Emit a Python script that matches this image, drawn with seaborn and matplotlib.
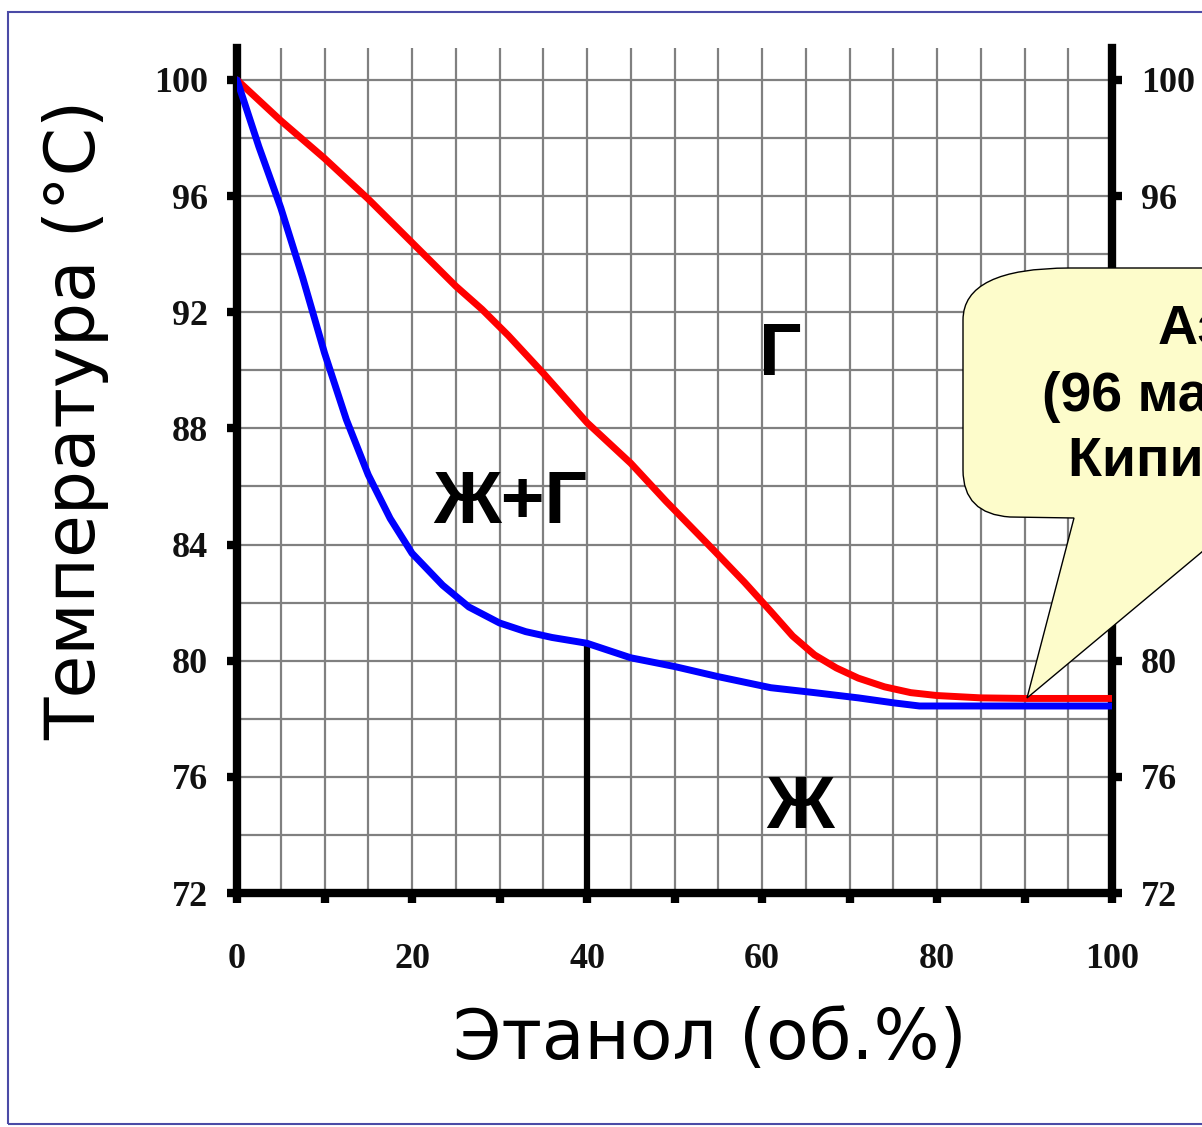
import numpy as np
import pandas as pd
import seaborn as sns
import matplotlib.pyplot as plt
from matplotlib.ticker import MultipleLocator
from matplotlib.path import Path
from matplotlib.patches import PathPatch, Rectangle

# liquid (boiling) curve - blue
ethanol_liq = [0, 2.5, 5, 7.5, 10, 12.5, 15, 17.5, 20, 23.5, 26.5, 30, 33, 36,
               40, 45, 50, 55, 61, 66, 71, 75, 78, 85, 90, 100]
temp_liq = [100, 97.7, 95.6, 93.2, 90.6, 88.3, 86.4, 84.9, 83.7, 82.6, 81.85, 81.3, 81.0, 80.8,
            80.6, 80.1, 79.8, 79.45, 79.07, 78.9, 78.72, 78.55, 78.44, 78.44, 78.44, 78.44]

# vapour (condensation) curve - red
ethanol_vap = [0, 5, 10, 15, 20, 25, 28, 31, 35, 40, 45, 49, 54.5, 58, 61, 63.5,
               66, 68.5, 71, 74, 77, 80, 85, 90, 100]
temp_vap = [100, 98.6, 97.3, 95.9, 94.4, 92.9, 92.1, 91.2, 89.9, 88.2, 86.8, 85.5, 83.8, 82.7, 81.7, 80.85,
            80.2, 79.75, 79.4, 79.1, 78.9, 78.8, 78.72, 78.7, 78.7]

x_ticks = list(range(0, 101, 10))
x_labels = ['0', '', '20', '', '40', '', '60', '', '80', '', '100']
y_ticks = [72, 76, 80, 84, 88, 92, 96, 100]
hidden_right = [84, 88, 92]   # right-hand labels sitting under the callout

marked_x = 40
region_labels = ['Г', 'Ж+Г', 'Ж']
region_x = [62.1, 31.2, 64.3]
region_y = [90.5, 85.4, 74.9]

callout_lines = ['Азеотроп', '(96 масс.% этанол)', 'Кипит при 78,2°C']

liq = pd.DataFrame({'ethanol': ethanol_liq, 'temp': temp_liq})
vap = pd.DataFrame({'ethanol': ethanol_vap, 'temp': temp_vap})

sns.set_theme(style='white')
plt.rcParams['font.family'] = ['DejaVu Sans']

W, H = 1202, 1127
fig = plt.figure(figsize=(W / 100, H / 100), dpi=100)
fig.patch.set_facecolor('white')


def fx(px):
    return px / W


def fy(py):
    return 1 - py / H


ax = fig.add_axes([fx(237), fy(893), fx(1112) - fx(237), fy(48) - fy(893)])
ax.set_facecolor('white')

sns.lineplot(data=vap, x='ethanol', y='temp', color='#ff0000', lw=5, ax=ax, zorder=4)
sns.lineplot(data=liq, x='ethanol', y='temp', color='#0000ff', lw=5, ax=ax, zorder=5)

# composition marker line
ax.vlines(marked_x, 72, np.interp(marked_x, ethanol_liq, temp_liq), color='black', lw=4.5, zorder=3)

ax.set_xlim(0, 100)
ax.set_ylim(72, 101.1)
ax.set_xticks(x_ticks)
ax.set_xticklabels(x_labels)
ax.set_yticks(y_ticks)
ax.set_yticklabels([str(t) for t in y_ticks])
ax.xaxis.set_minor_locator(MultipleLocator(5))
ax.yaxis.set_minor_locator(MultipleLocator(2))
ax.grid(True, which='both', color='#808080', lw=1.6)
ax.set_axisbelow(True)

for side in ['left', 'right', 'bottom']:
    ax.spines[side].set_visible(True)
    ax.spines[side].set_color('black')
    ax.spines[side].set_linewidth(6)
ax.spines['top'].set_visible(False)

ax.tick_params(which='minor', length=0)
ax.tick_params(axis='x', which='major', direction='out', length=7, width=6, color='black', pad=29,
               bottom=True, top=False)
ax.tick_params(axis='y', which='major', direction='out', length=7, width=6, color='black', pad=14,
               left=True, right=True, labelleft=True, labelright=True)

ticklabs = ax.get_xticklabels() + ax.get_yticklabels() + ax.yaxis.get_ticklabels(which='major')
for tick in ax.yaxis.get_major_ticks():
    ticklabs.append(tick.label2)
    if tick.get_loc() in hidden_right:
        tick.label2.set_visible(False)
for lab in ticklabs:
    lab.set_fontfamily('Liberation Serif')
    lab.set_fontweight('bold')
    lab.set_fontsize(26)
    lab.set_color('#111111')

ax.set_xlabel('Этанол (об.%)', fontsize=50, color='black')
ax.set_ylabel('Температура (°C)', fontsize=50, color='black')
ax.xaxis.set_label_coords((710 - 237) / 875, (893 - 1040) / 845)
ax.xaxis.label.set_va('center')
ax.yaxis.set_label_coords((76 - 237) / 875, (893 - 420) / 845)
ax.yaxis.label.set_va('center')

for lab, x, y in zip(region_labels, region_x, region_y):
    ax.text(x, y, lab, fontsize=54, fontweight='bold', fontfamily='Liberation Sans',
            ha='center', va='center', color='black', zorder=6)

# speech bubble (runs off the right edge like the original slide)
bubble_px = [
    (1027, 698), (1074, 518), (1010, 517), (963, 514), (963, 470),
    (963, 320), (963, 268), (1070, 268), (1300, 268), (1300, 470), (1027, 698)
]
codes = [Path.MOVETO, Path.LINETO, Path.LINETO, Path.CURVE3, Path.CURVE3,
         Path.LINETO, Path.CURVE3, Path.CURVE3, Path.LINETO, Path.LINETO, Path.CLOSEPOLY]
verts = [(fx(px), fy(py)) for px, py in bubble_px]
bubble = PathPatch(Path(verts, codes), transform=fig.transFigure, facecolor='#fdfccb',
                   edgecolor='black', lw=1, zorder=10)
fig.add_artist(bubble)

for line, px, py in zip(callout_lines, [1158, 1042, 1068], [330, 397, 462]):
    fig.text(fx(px), fy(py), line, fontsize=40, fontweight='bold', fontfamily='Liberation Sans',
             ha='left', va='center', color='black', zorder=11)

# slide frame
frame = Rectangle((fx(8), fy(1124)), 2, fy(12) - fy(1124), transform=fig.transFigure,
                  fill=False, edgecolor='#4b4ba6', lw=1.5, zorder=12)
fig.add_artist(frame)

fig.savefig('out.png', dpi=100)
